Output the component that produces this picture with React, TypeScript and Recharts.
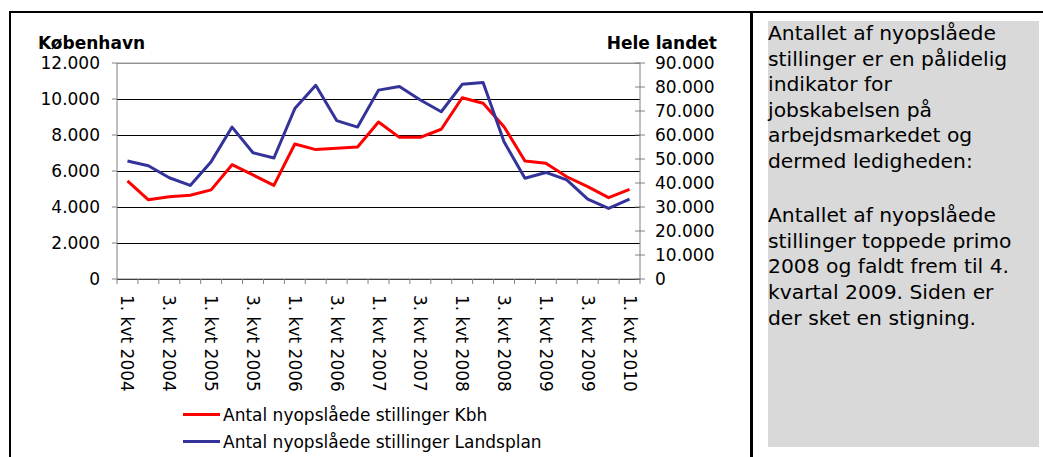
import React from 'react';
import { LineChart, Line, XAxis, YAxis, CartesianGrid, ReferenceLine, Legend } from 'recharts';

const quarters = [
  '1. kvt 2004', '2. kvt 2004', '3. kvt 2004', '4. kvt 2004',
  '1. kvt 2005', '2. kvt 2005', '3. kvt 2005', '4. kvt 2005',
  '1. kvt 2006', '2. kvt 2006', '3. kvt 2006', '4. kvt 2006',
  '1. kvt 2007', '2. kvt 2007', '3. kvt 2007', '4. kvt 2007',
  '1. kvt 2008', '2. kvt 2008', '3. kvt 2008', '4. kvt 2008',
  '1. kvt 2009', '2. kvt 2009', '3. kvt 2009', '4. kvt 2009',
  '1. kvt 2010',
];

// København (venstre akse)
const kbhValues = [
  5450, 4400, 4570, 4650, 4950, 6350, 5780, 5200, 7500, 7190, 7260, 7330, 8720,
  7870, 7870, 8320, 10070, 9760, 8460, 6560, 6430, 5680, 5130, 4520, 4980,
];

// Hele landet (højre akse)
const landValues = [
  49200, 47200, 42200, 39000, 48900, 63300, 52600, 50400, 71000, 80700, 66000, 63300, 78700,
  80200, 74600, 69700, 81100, 81900, 57200, 42000, 44400, 41300, 33300, 29400, 33300,
];

const kbhTicks = [0, 2000, 4000, 6000, 8000, 10000, 12000];
const landTicks = [0, 10000, 20000, 30000, 40000, 50000, 60000, 70000, 80000, 90000];

const kbhName = 'Antal nyopslåede stillinger Kbh';
const landName = 'Antal nyopslåede stillinger Landsplan';

const textLines = [
  'Antallet af nyopslåede',
  'stillinger er en pålidelig',
  'indikator for',
  'jobskabelsen på',
  'arbejdsmarkedet og',
  'dermed ledigheden:',
  '',
  'Antallet af nyopslåede',
  'stillinger toppede primo',
  '2008 og faldt frem til 4.',
  'kvartal 2009. Siden er',
  'der sket en stigning.',
];

const data = quarters.map((q, i) => ({ idx: i, quarter: q, kbh: kbhValues[i], land: landValues[i] }));
const bandEdges = [...quarters.map((_, i) => i - 0.5), quarters.length - 0.5];
const labelTicks = quarters.map((_, i) => i).filter((i) => i % 2 === 0);
const xDomain = [-0.5, quarters.length - 0.5];

const FONT = "Verdana, 'DejaVu Sans', sans-serif";
const AXIS_GREY = '#808080';

const fmt = (v: number) => String(v).replace(/\B(?=(\d{3})+(?!\d))/g, '.');

const QuarterTick = ({ x, y, payload }: any) => (
  <text
    x={x}
    y={y}
    transform={`rotate(90 ${x} ${y})`}
    textAnchor="start"
    dominantBaseline="central"
    fontSize={17}
    fontFamily={FONT}
    fill="#000"
  >
    {quarters[payload.value]}
  </text>
);

const RightTick = ({ x, y, payload }: any) => (
  <g>
    <line x1={x - 20} x2={x - 15} y1={y} y2={y} stroke={AXIS_GREY} />
    <text x={x} y={y} dy="0.36em" textAnchor="start" fontSize={17} fontFamily={FONT} fill="#000">
      {fmt(payload.value)}
    </text>
  </g>
);

const LegendBox = ({ payload }: any) => (
  <div style={{ fontFamily: FONT, fontSize: 17, color: '#000' }}>
    {(payload || []).map((entry: any) => (
      <div key={entry.value} style={{ display: 'flex', alignItems: 'center', height: 27 }}>
        <span style={{ display: 'inline-block', width: 37, height: 3, background: entry.color, marginRight: 3 }} />
        <span>{entry.value}</span>
      </div>
    ))}
  </div>
);

export default function App() {
  return (
    <div style={{ position: 'absolute', left: 0, top: 0, width: 1043, height: 457, background: '#fff', overflow: 'hidden' }}>
      {/* ramme */}
      <div style={{ position: 'absolute', left: 9, top: 11, width: 1040, height: 460, borderTop: '2px solid #000', borderLeft: '2px solid #000' }} />
      <div style={{ position: 'absolute', left: 750, top: 11, width: 3, height: 460, background: '#000' }} />

      <div style={{ position: 'absolute', left: 0, top: 0 }}>
        <LineChart width={750} height={457} data={data} margin={{ top: 63, right: 20, bottom: 57, left: 37 }}>
          <CartesianGrid xAxisId="base" yAxisId="kbh" vertical={false} stroke="#000" strokeWidth={1} shapeRendering="crispEdges" />
          <ReferenceLine xAxisId="base" yAxisId="kbh" y={12000} stroke="#c0c0c0" strokeWidth={1.5} />
          <XAxis
            xAxisId="base"
            dataKey="idx"
            type="number"
            domain={xDomain}
            ticks={bandEdges}
            interval={0}
            height={1}
            tickSize={5}
            axisLine={{ stroke: AXIS_GREY }}
            tickLine={{ stroke: AXIS_GREY }}
            tick={() => <g />}
          />
          <XAxis
            xAxisId="quarterLabels"
            dataKey="idx"
            type="number"
            domain={xDomain}
            ticks={labelTicks}
            interval={0}
            height={120}
            tickSize={6}
            tickMargin={9}
            axisLine={false}
            tickLine={false}
            tick={<QuarterTick />}
          />
          <YAxis
            yAxisId="kbh"
            orientation="left"
            width={80}
            domain={[0, 12000]}
            ticks={kbhTicks}
            interval={0}
            tickFormatter={fmt}
            tickSize={5}
            tickMargin={12}
            axisLine={{ stroke: AXIS_GREY }}
            tickLine={{ stroke: AXIS_GREY }}
            tick={{ fill: '#000', fontSize: 17, fontFamily: FONT }}
            label={{
              content: ({ viewBox }: any) => (
                <text x={viewBox.x + 1} y={viewBox.y - 14} fontSize={17} fontWeight="bold" fontFamily={FONT} fill="#000">
                  København
                </text>
              ),
            }}
          />
          <YAxis
            yAxisId="land"
            orientation="right"
            width={90}
            domain={[0, 90000]}
            ticks={landTicks}
            interval={0}
            tickSize={5}
            tickMargin={10}
            axisLine={{ stroke: AXIS_GREY }}
            tickLine={{ stroke: AXIS_GREY }}
            tick={<RightTick />}
            label={{
              content: ({ viewBox }: any) => (
                <text x={viewBox.x + 77} y={viewBox.y - 14} textAnchor="end" fontSize={17} fontWeight="bold" fontFamily={FONT} fill="#000">
                  Hele landet
                </text>
              ),
            }}
          />
          <Legend
            layout="horizontal"
            verticalAlign="middle"
            align="center"
            wrapperStyle={{ left: 183, top: 401, width: 420 }}
            content={<LegendBox />}
          />
          <Line
            xAxisId="base"
            yAxisId="kbh"
            type="linear"
            dataKey="kbh"
            name={kbhName}
            stroke="#ff0000"
            strokeWidth={3}
            strokeLinejoin="round"
            dot={false}
            activeDot={false}
            isAnimationActive={false}
          />
          <Line
            xAxisId="base"
            yAxisId="land"
            type="linear"
            dataKey="land"
            name={landName}
            stroke="#333399"
            strokeWidth={3}
            strokeLinejoin="round"
            dot={false}
            activeDot={false}
            isAnimationActive={false}
          />
        </LineChart>
      </div>

      <div
        style={{
          position: 'absolute',
          left: 768,
          top: 21,
          width: 271,
          height: 426,
          background: '#d9d9d9',
          fontFamily: FONT,
          fontSize: 20.3,
          lineHeight: '25.6px',
          color: '#000',
          whiteSpace: 'nowrap',
        }}
      >
        {textLines.map((line, i) => (
          <div key={i} style={{ height: line ? 25.6 : 28.6 }}>{line}</div>
        ))}
      </div>
    </div>
  );
}
